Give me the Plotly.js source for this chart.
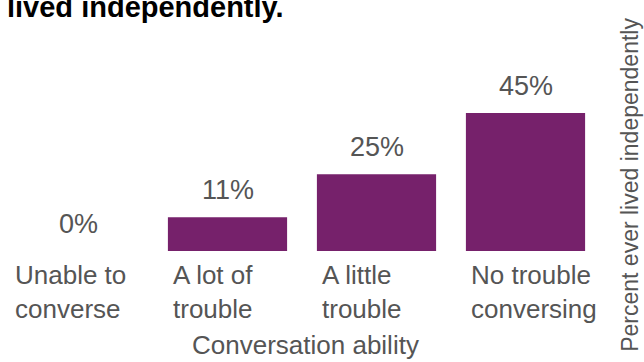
<!DOCTYPE html>
<html>
<head>
<meta charset="utf-8">
<script src="https://cdn.plot.ly/plotly-3.0.1.min.js"></script>
<style>
  html, body { margin: 0; padding: 0; background: #fff; }
  #chart { width: 644px; height: 362px; }
</style>
</head>
<body>
<div id="chart"></div>
<script>
const categories = ['Unable to converse', 'A lot of trouble', 'A little trouble', 'No trouble conversing'];
const tickLabels = ['Unable to<br>converse', 'A lot of<br>trouble', 'A little<br>trouble', 'No trouble<br>conversing'];
const values = [0, 11, 25, 45];
const valueLabels = ['0%', '11%', '25%', '45%'];
const titleText = '<b>lived independently.</b>';
const xTitle = 'Conversation ability';
const yTitle = 'Percent ever lived independently';

const FONT = 'Liberation Sans, Arial, Helvetica, sans-serif';
const GRAY = '#555555';
const PURPLE = '#76216B';

const trace = {
  type: 'bar',
  x: categories,
  y: values,
  marker: { color: PURPLE },
  hoverinfo: 'none'
};

const annotations = [];

// value labels above bars
categories.forEach((c, i) => annotations.push({
  x: c, y: values[i], xref: 'x', yref: 'y',
  text: valueLabels[i], showarrow: false,
  xanchor: 'center', yanchor: 'middle', yshift: 27,
  font: { family: FONT, size: 27, color: GRAY }
}));

// left-aligned category labels under bars
categories.forEach((c, i) => annotations.push({
  x: c, y: 0, xref: 'x', yref: 'y',
  text: tickLabels[i], showarrow: false,
  xanchor: 'left', yanchor: 'top', align: 'left',
  xshift: i === 0 ? -66 : -57, yshift: -7,
  font: { family: FONT, size: 26, color: GRAY }
}));

// x axis title
annotations.push({
  xref: 'paper', yref: 'paper', x: 0.506, y: -0.511,
  xanchor: 'center', yanchor: 'middle',
  text: xTitle, showarrow: false,
  font: { family: FONT, size: 26, color: GRAY }
});

// y axis title (right side, rotated)
annotations.push({
  xref: 'paper', yref: 'paper', x: 1.051, y: 0.362,
  xanchor: 'center', yanchor: 'middle',
  text: yTitle, textangle: -90, showarrow: false,
  font: { family: FONT, size: 23, color: GRAY }
});

const layout = {
  width: 644, height: 362,
  margin: { l: 4, r: 44, t: 67, b: 111 },
  paper_bgcolor: '#fff', plot_bgcolor: '#fff',
  bargap: 0.2,
  showlegend: false,
  title: {
    text: titleText, x: 7 / 644, xanchor: 'left', xref: 'container',
    y: 1 - 7 / 362, yanchor: 'middle', yref: 'container', automargin: false,
    font: { family: FONT, size: 29, color: '#000' }
  },
  xaxis: {
    type: 'category', range: [-0.5, 3.5], fixedrange: true,
    showgrid: false, zeroline: false, showline: false, ticks: '',
    showticklabels: false, automargin: false
  },
  yaxis: {
    range: [0, 60], fixedrange: true, visible: false,
    showgrid: false, zeroline: false, automargin: false
  },
  annotations: annotations
};

Plotly.newPlot('chart', [trace], layout, { displayModeBar: false, staticPlot: true });
</script>
</body>
</html>
